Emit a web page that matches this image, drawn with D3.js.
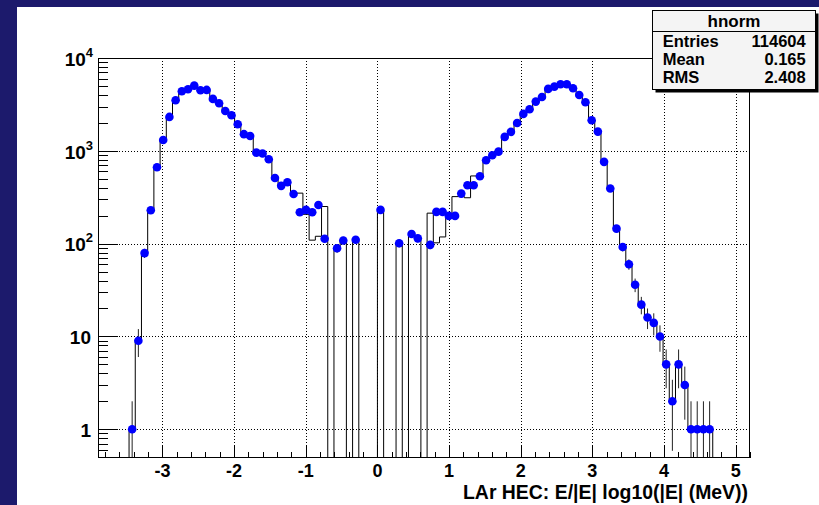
<!DOCTYPE html>
<html><head><meta charset="utf-8">
<script src="https://cdn.jsdelivr.net/npm/d3@7"></script>
<style>body{margin:0;background:#1c1a6c;} svg{display:block;}</style>
</head><body><svg id="c" width="819" height="505"></svg>
<script>
// ---- data ----
const xMin = -3.9, xMax = 5.2;            // histogram range shown on the axis
// blue points (counts per bin), first bin starts at xMin
const dataCounts = [
  0,0,0,0,0,
  1,9,79,229,666,1310,2318,3510,4390,4610,
  5040,4500,4530,3625,3260,2690,2420,1936,1511,1446,
  956,934,811,510,419,459,343,218,231,218,
  261,113,0,89,108,0,110,0,0,0,
  231,0,0,101,0,127,114,0,97,220,
  220,199,199,346,426,426,532,792,897,980,
  1413,1600,1996,2500,2806,3390,3800,4645,4920,5220,
  5220,4730,4000,3340,2136,1610,760,392,145,92,
  60,36,22,16,14,10,5,2,5,3,
  1,1,1,1,0,0,0,0,0,0
];
// black step histogram (reference)
const refCounts = [
  0,0,0,0,0,
  1,9,79,229,666,1310,2318,3510,4390,4610,
  5040,4500,4530,3625,3260,2690,2420,1936,1511,1446,
  956,934,811,510,419,459,343,350,207,109,
  120,251,0,89,108,0,110,0,0,0,
  231,0,0,101,0,127,114,0,213,102,
  118,198,321,321,312,536,532,792,897,980,
  1413,1600,1996,2500,2806,3390,3800,4645,4920,5220,
  5220,4730,4000,3340,2136,1610,760,392,145,92,
  60,36,22,16,14,10,5,2,5,3,
  1,1,1,1,0,0,0,0,0,0
];
const xTickValues = [-3,-2,-1,0,1,2,3,4,5];
const yTickValues = [1,10,100,1000,10000];
const yTickLabels = [["1",""],["10",""],["10","2"],["10","3"],["10","4"]];
const statsTitle = "hnorm";
const statsNames = ["Entries","Mean","RMS"];
const statsValues = ["114604","0.165","2.408"];
const axisTitle = "LAr HEC: E/|E| log10(|E| (MeV))";

// ---- drawing ----
const W = 819, H = 505;
const L = 98, R = 750, T = 58, B = 458;
const FONT = "'Liberation Sans', Arial, Helvetica, sans-serif";
const svg = d3.select("#c");
svg.append("rect").attr("width", W).attr("height", H).attr("fill", "#1c1a6c");
svg.append("rect").attr("x", 17).attr("y", 7).attr("width", W-17).attr("height", H-7).attr("fill", "#ffffff");

const x = d3.scaleLinear().domain([xMin, xMax]).range([L, R]);
const y = d3.scaleLog().domain([0.49, 1e4]).range([B, T]);
const nB = dataCounts.length, bw = (xMax - xMin) / nB;
const yv = v => v > 0 ? Math.max(T, Math.min(B, y(v))) : B;

svg.append("clipPath").attr("id", "fr").append("rect")
  .attr("x", L).attr("y", T).attr("width", R-L).attr("height", B-T);
const g = svg.append("g").attr("clip-path", "url(#fr)");

// grid
g.selectAll("line.gx").data(xTickValues).join("line")
  .attr("x1", d => Math.round(x(d))+0.5).attr("x2", d => Math.round(x(d))+0.5)
  .attr("y1", T).attr("y2", B)
  .attr("stroke", "#000").attr("stroke-width", 1).attr("stroke-dasharray", "1,2");
g.selectAll("line.gy").data(yTickValues.slice(0, 4)).join("line")
  .attr("y1", d => Math.round(y(d))+0.5).attr("y2", d => Math.round(y(d))+0.5)
  .attr("x1", L).attr("x2", R)
  .attr("stroke", "#000").attr("stroke-width", 1).attr("stroke-dasharray", "1,2");

// step histogram
const pts = [];
refCounts.forEach((c, i) => {
  pts.push([x(xMin + i*bw), yv(c)]);
  pts.push([x(xMin + (i+1)*bw), yv(c)]);
});
g.append("path").attr("d", d3.line()(pts)).attr("fill", "none")
  .attr("stroke", "#000").attr("stroke-width", 1);

// error bars
const pdata = dataCounts.map((c, i) => ({c, xc: xMin + (i+0.5)*bw})).filter(d => d.c > 0);
g.selectAll("line.err").data(pdata).join("line")
  .attr("x1", d => x(d.xc)).attr("x2", d => x(d.xc))
  .attr("y1", d => yv(d.c + Math.sqrt(d.c)))
  .attr("y2", d => yv(d.c - Math.sqrt(d.c)))
  .attr("stroke", "#222").attr("stroke-width", 1);

// markers
g.selectAll("circle").data(pdata).join("circle")
  .attr("cx", d => x(d.xc)).attr("cy", d => y(d.c)).attr("r", 4.3)
  .attr("fill", "#0000ff");

// frame
svg.append("rect").attr("x", L+0.5).attr("y", T+0.5).attr("width", R-L-1).attr("height", B-T-1)
  .attr("fill", "none").attr("stroke", "#000").attr("stroke-width", 1);

// x ticks
const xt = d3.range(-19, 27).map(k => +(k*0.2).toFixed(2));
svg.selectAll("line.xt").data(xt).join("line")
  .attr("x1", d => Math.round(x(d))+0.5).attr("x2", d => Math.round(x(d))+0.5)
  .attr("y1", B).attr("y2", d => B - (Math.abs(d - Math.round(d)) < 1e-6 ? 12 : 6))
  .attr("stroke", "#000").attr("stroke-width", 1);

// y ticks
const yt = [];
for (let e = -1; e <= 3; e++) for (let m = 1; m <= 9; m++) {
  const v = m * Math.pow(10, e);
  if (v >= 0.49 && v <= 1e4) yt.push({v, major: m === 1});
}
svg.selectAll("line.yt").data(yt).join("line")
  .attr("y1", d => Math.round(y(d.v))+0.5).attr("y2", d => Math.round(y(d.v))+0.5)
  .attr("x1", L).attr("x2", d => L + (d.major ? 20 : 10))
  .attr("stroke", "#000").attr("stroke-width", 1);

// x labels
svg.selectAll("text.xl").data(xTickValues).join("text")
  .attr("x", d => x(d)).attr("y", 477).attr("text-anchor", "middle")
  .attr("font-family", FONT).attr("font-weight", "bold").attr("font-size", 18)
  .text(d => d);

// y labels
yTickValues.forEach((v, i) => {
  const [base, exp] = yTickLabels[i];
  const t = svg.append("text").attr("x", exp ? 93 : 91).attr("y", y(v) + 7.8)
    .attr("text-anchor", "end").attr("font-family", FONT).attr("font-weight", "bold").attr("font-size", 19);
  t.append("tspan").text(base);
  if (exp) t.append("tspan").attr("dy", -9).attr("font-size", 13).text(exp);
});

// axis title
svg.append("text").attr("x", 748).attr("y", 499).attr("text-anchor", "end")
  .attr("font-family", FONT).attr("font-weight", "bold").attr("font-size", 20)
  .attr("textLength", 285).attr("lengthAdjust", "spacingAndGlyphs")
  .text(axisTitle);

// stats box
const sb = {x: 652.5, y: 10.5, w: 163, h: 79};
svg.append("rect").attr("x", sb.x+3).attr("y", sb.y+3).attr("width", sb.w).attr("height", sb.h).attr("fill", "#000");
svg.append("rect").attr("x", sb.x).attr("y", sb.y).attr("width", sb.w).attr("height", sb.h)
  .attr("fill", "#f4f4f4").attr("stroke", "#000").attr("stroke-width", 1);
svg.append("line").attr("x1", sb.x).attr("x2", sb.x+sb.w).attr("y1", 31.5).attr("y2", 31.5)
  .attr("stroke", "#000").attr("stroke-width", 1);
svg.append("text").attr("x", sb.x + sb.w/2).attr("y", 26.7).attr("text-anchor", "middle")
  .attr("font-family", FONT).attr("font-weight", "bold").attr("font-size", 17).text(statsTitle);
const rowsY = [46.7, 65, 83.3];
statsNames.forEach((n, i) => {
  svg.append("text").attr("x", 662.7).attr("y", rowsY[i]).attr("font-family", FONT)
    .attr("font-weight", "bold").attr("font-size", 16.5).text(n);
  svg.append("text").attr("x", 805.7).attr("y", rowsY[i]).attr("text-anchor", "end").attr("font-family", FONT)
    .attr("font-weight", "bold").attr("font-size", 16.5).text(statsValues[i]);
});
</script></body></html>
